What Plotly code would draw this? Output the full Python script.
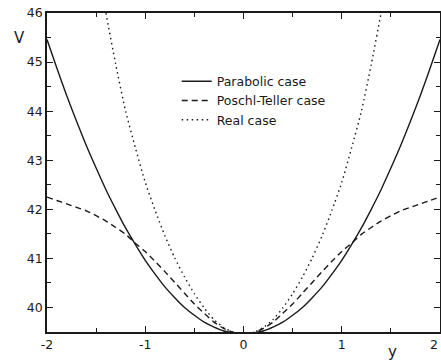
import plotly.graph_objects as go

# y coordinate samples
y_vals = [-2.0, -1.9, -1.8, -1.7, -1.6, -1.5, -1.4, -1.3, -1.2, -1.1, -1.0,
          -0.9, -0.8, -0.7, -0.6, -0.5, -0.4, -0.3, -0.2, -0.1, 0.0,
          0.1, 0.2, 0.3, 0.4, 0.5, 0.6, 0.7, 0.8, 0.9, 1.0,
          1.1, 1.2, 1.3, 1.4, 1.5, 1.6, 1.7, 1.8, 1.9, 2.0]

# Parabolic case
v_parabolic = [45.46, 44.88, 44.32, 43.80, 43.30, 42.84, 42.40, 42.00, 41.62, 41.28, 40.96,
               40.68, 40.42, 40.20, 40.00, 39.84, 39.70, 39.60, 39.52, 39.48, 39.46,
               39.48, 39.52, 39.60, 39.70, 39.84, 40.00, 40.20, 40.42, 40.68, 40.96,
               41.28, 41.62, 42.00, 42.40, 42.84, 43.30, 43.80, 44.32, 44.88, 45.46]

# Poschl-Teller case
v_poschl = [42.25, 42.18, 42.11, 42.04, 41.97, 41.87, 41.76, 41.63, 41.49, 41.31, 41.14,
            40.94, 40.73, 40.51, 40.29, 40.07, 39.88, 39.70, 39.57, 39.49, 39.46,
            39.49, 39.57, 39.70, 39.88, 40.07, 40.29, 40.51, 40.73, 40.94, 41.14,
            41.31, 41.49, 41.63, 41.76, 41.87, 41.97, 42.04, 42.11, 42.18, 42.25]

# Real case (only the part inside the frame and a bit beyond)
y_real = [-1.5, -1.4, -1.3, -1.2, -1.1, -1.0, -0.9, -0.8, -0.7, -0.6, -0.5,
          -0.4, -0.3, -0.2, -0.1, 0.0, 0.1, 0.2, 0.3, 0.4, 0.5,
          0.6, 0.7, 0.8, 0.9, 1.0, 1.1, 1.2, 1.3, 1.4, 1.5]
v_real = [47.20, 46.00, 44.95, 44.00, 43.25, 42.55, 41.98, 41.46, 41.01, 40.62, 40.28,
          39.99, 39.75, 39.59, 39.49, 39.46, 39.49, 39.59, 39.75, 39.99, 40.28,
          40.62, 41.01, 41.46, 41.98, 42.55, 43.25, 44.00, 44.95, 46.00, 47.20]

series_names = ["Parabolic case", "Poschl-Teller case", "Real case"]

x_tickvals = [-2, -1, 0, 1, 2]
x_ticktext = ["-2", "-1", "0", "1", ""]   # last label drawn as an annotation so it stays inside the page
x_last_label = "2"
y_tickvals = [40, 41, 42, 43, 44, 45, 46]
y_ticktext = ["40", "41", "42", "43", "44", "45", "46"]

FONT = "DejaVu Sans"
INK = "#1a1a1a"

fig = go.Figure()
fig.add_trace(go.Scatter(x=y_vals, y=v_parabolic, mode="lines", name=series_names[0],
                         line=dict(color=INK, width=1.4, shape="spline", smoothing=0.6)))
fig.add_trace(go.Scatter(x=y_vals, y=v_poschl, mode="lines", name=series_names[1],
                         line=dict(color=INK, width=1.4, dash="6px,4px", shape="spline", smoothing=0.6)))
fig.add_trace(go.Scatter(x=y_real, y=v_real, mode="lines", name=series_names[2],
                         line=dict(color=INK, width=1.4, dash="1.5px,3.5px", shape="spline", smoothing=0.6)))

axis_common = dict(
    showline=True, linecolor=INK, linewidth=1.6, mirror="ticks",
    ticks="inside", ticklen=6, tickwidth=1.2, tickcolor=INK,
    showgrid=False, zeroline=False, automargin=False,
    tickfont=dict(family=FONT, size=12.5, color=INK),
)

fig.update_xaxes(range=[-2, 2], tickvals=x_tickvals, ticktext=x_ticktext,
                 minor=dict(dtick=0.5, tick0=0, ticks="inside", ticklen=4, tickcolor=INK, tickwidth=1.1),
                 **axis_common)
fig.update_yaxes(range=[39.5, 46], tickvals=y_tickvals, ticktext=y_ticktext,
                 minor=dict(dtick=0.5, tick0=0, ticks="inside", ticklen=4, tickcolor=INK, tickwidth=1.1),
                 **axis_common)

fig.update_layout(
    width=441, height=360,
    margin=dict(l=47, r=1, t=13, b=28),
    paper_bgcolor="white", plot_bgcolor="white",
    showlegend=True,
    legend=dict(x=0.330, y=0.832, xanchor="left", yanchor="top",
                bgcolor="rgba(0,0,0,0)", borderwidth=0,
                font=dict(family=FONT, size=12.5, color=INK)),
    annotations=[
        dict(text="V", xref="paper", yref="paper", x=-0.0695, y=0.921,
             showarrow=False, xanchor="center", yanchor="middle",
             font=dict(family=FONT, size=15, color=INK)),
        dict(text="y", xref="paper", yref="paper", x=0.878, y=-0.062,
             showarrow=False, xanchor="center", yanchor="middle",
             font=dict(family=FONT, size=15, color=INK)),
        dict(text=x_last_label, xref="x", yref="paper", x=x_tickvals[-1], y=0,
             showarrow=False, xanchor="right", yanchor="middle", yshift=-12,
             font=dict(family=FONT, size=12.5, color=INK)),
    ],
)

fig.write_html("out.html",
               config={"displayModeBar": False},
               post_script="document.body.style.margin='0px';document.body.style.overflow='hidden';")
